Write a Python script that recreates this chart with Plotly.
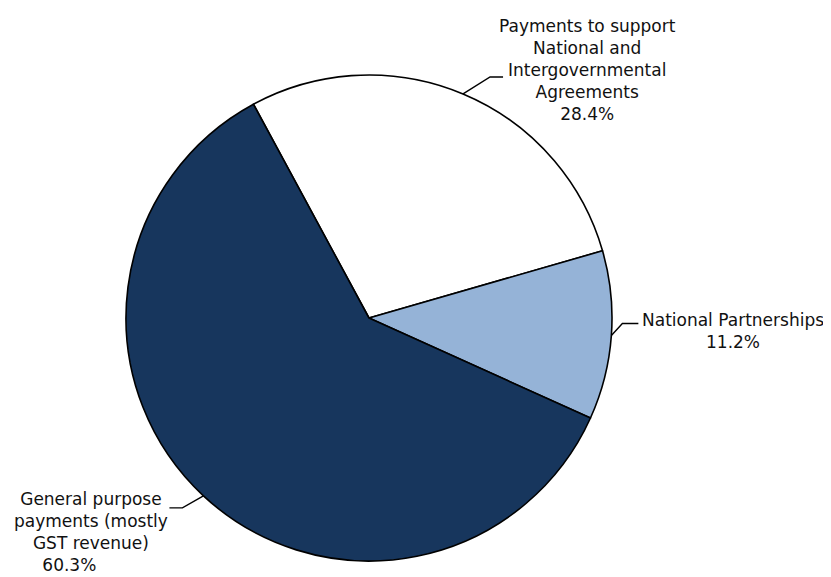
import math
import plotly.graph_objects as go

# ---- data ----
labels = ["Payments to support National and Intergovernmental Agreements",
          "National Partnerships",
          "General purpose payments (mostly GST revenue)"]
label_lines = [["Payments to support", "National and", "Intergovernmental", "Agreements"],
               ["National Partnerships"],
               ["General purpose", "payments (mostly", "GST revenue)"]]
values = [28.4, 11.2, 60.3]
colors = ["#FFFFFF", "#95B3D7", "#17365D"]

# ---- layout constants (target-window pixels) ----
WIN_W, WIN_H = 831, 577
OFF = 8                      # default page body margin
W, H = WIN_W - OFF, WIN_H - OFF
CX, CY, R = 369, 318, 243
ROT = -28.4
FONT = dict(family="DejaVu Sans", size=17, color="#111111")


def px(x):
    return (x - OFF) / W


def py(y):
    return 1 - (y - OFF) / H


fig = go.Figure(go.Pie(
    labels=labels, values=values, sort=False, direction="clockwise",
    rotation=ROT, textinfo="none", hoverinfo="label+percent",
    marker=dict(colors=colors, line=dict(color="#000000", width=1.6)),
    domain=dict(x=[px(CX - R), px(CX + R)], y=[py(CY + R), py(CY - R)]),
    showlegend=False,
))

# leader-line styling: (radial elbow dx, dy, horizontal run) per slice
elbows = [(27, -17, 13), (11, -12, 16), (-21, 12, -13)]
# text block centre relative to end of leader line
text_off = [(84, -7), (95, 8), (-78, 24)]
# trailing padding on the percentage line (as in the reference layout)
pct_pad = ["", "", "&nbsp;" * 8]

total = sum(values)
cum = 0.0
shapes = []
annotations = []
for i, v in enumerate(values):
    mid = math.radians(ROT + 360 * (cum + v / 2) / total)
    cum += v
    ex = CX + R * math.sin(mid)
    ey = CY - R * math.cos(mid)
    dx, dy, run = elbows[i]
    kx, ky = ex + dx, ey + dy
    hx = kx + run
    shapes.append(dict(type="path", xref="paper", yref="paper",
                       path=f"M {px(ex)} {py(ey)} L {px(kx)} {py(ky)} L {px(hx)} {py(ky)}",
                       line=dict(color="#000000", width=1.4)))
    tx, ty = text_off[i]
    pct = f"{v:.1f}%" + pct_pad[i]
    txt = "<br>".join(label_lines[i] + [pct])
    annotations.append(dict(x=px(hx + tx), y=py(ky + ty), xref="paper", yref="paper",
                            text=txt, showarrow=False, align="center",
                            xanchor="center", yanchor="middle", font=FONT))

fig.update_layout(
    width=W, height=H, margin=dict(l=0, r=0, t=0, b=0),
    paper_bgcolor="#FFFFFF", plot_bgcolor="#FFFFFF",
    shapes=shapes, annotations=annotations,
)

fig.write_html("out.html")
